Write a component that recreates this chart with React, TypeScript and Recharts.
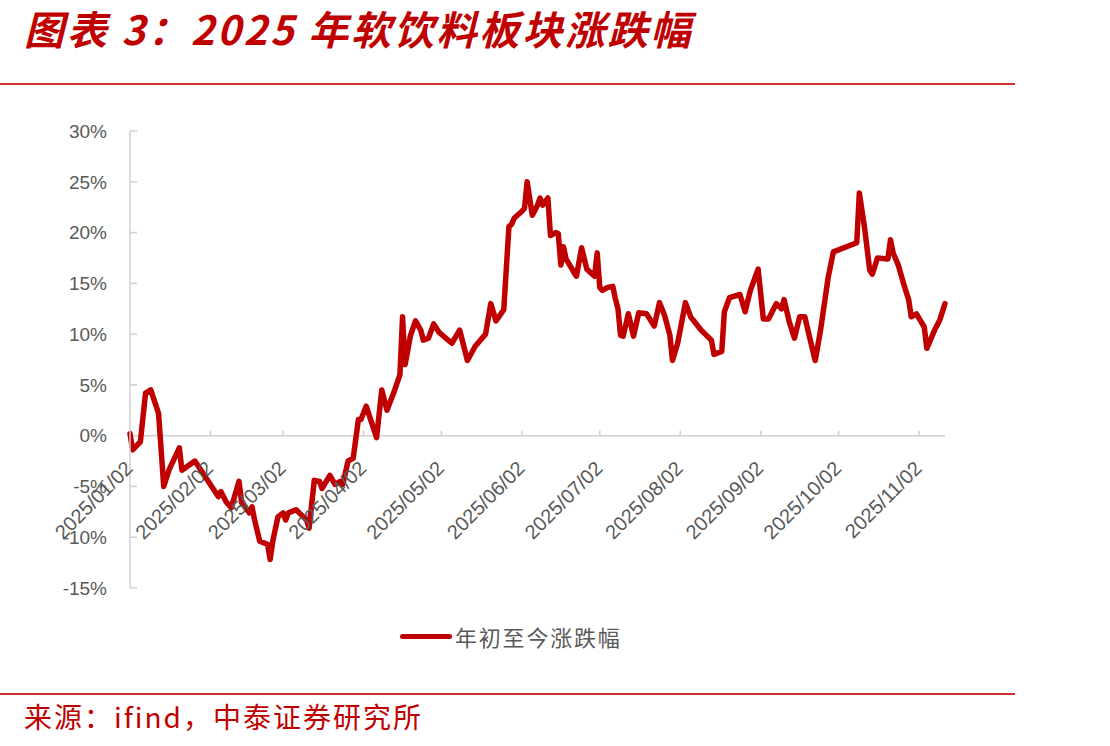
import React from "react";
import { LineChart, Line, XAxis, YAxis, ReferenceLine, ReferenceDot } from "recharts";

const dates = [
  "2025/01/02","2025/01/03","2025/01/06","2025/01/08","2025/01/10","2025/01/13","2025/01/15","2025/01/17","2025/01/21","2025/01/22",
  "2025/01/27","2025/02/05","2025/02/06","2025/02/08","2025/02/10","2025/02/13","2025/02/14","2025/02/17","2025/02/18","2025/02/19",
  "2025/02/21","2025/02/24","2025/02/25","2025/02/26","2025/02/28","2025/03/02","2025/03/03","2025/03/04","2025/03/07","2025/03/09",
  "2025/03/11","2025/03/12","2025/03/14","2025/03/16","2025/03/17","2025/03/20","2025/03/22","2025/03/24","2025/03/25","2025/03/27",
  "2025/03/29","2025/03/31","2025/04/01","2025/04/03","2025/04/07","2025/04/09","2025/04/11","2025/04/14","2025/04/16","2025/04/17",
  "2025/04/18","2025/04/20","2025/04/22","2025/04/24","2025/04/25","2025/04/27","2025/04/29","2025/05/01","2025/05/06","2025/05/09",
  "2025/05/12","2025/05/15","2025/05/19","2025/05/21","2025/05/23","2025/05/26","2025/05/28","2025/05/29","2025/05/30","2025/06/02",
  "2025/06/03","2025/06/04","2025/06/06","2025/06/08","2025/06/09","2025/06/10","2025/06/12","2025/06/13","2025/06/15","2025/06/16",
  "2025/06/17","2025/06/18","2025/06/19","2025/06/22","2025/06/23","2025/06/25","2025/06/27","2025/06/30","2025/07/01","2025/07/02",
  "2025/07/03","2025/07/05","2025/07/07","2025/07/08","2025/07/09","2025/07/10","2025/07/11","2025/07/13","2025/07/15","2025/07/17",
  "2025/07/20","2025/07/23","2025/07/25","2025/07/27","2025/07/29","2025/07/30","2025/08/01","2025/08/04","2025/08/06","2025/08/10",
  "2025/08/12","2025/08/14","2025/08/15","2025/08/18","2025/08/19","2025/08/21","2025/08/25","2025/08/27","2025/08/29","2025/09/01",
  "2025/09/03","2025/09/05","2025/09/08","2025/09/10","2025/09/11","2025/09/13","2025/09/15","2025/09/17","2025/09/19","2025/09/21",
  "2025/09/23","2025/09/25","2025/09/28","2025/09/30","2025/10/09","2025/10/10","2025/10/12","2025/10/14","2025/10/15","2025/10/17",
  "2025/10/21","2025/10/22","2025/10/23","2025/10/25","2025/10/27","2025/10/29","2025/10/30","2025/11/01","2025/11/04","2025/11/05",
  "2025/11/08","2025/11/10","2025/11/12"
];

const ytdChange = [
  0.2, -1.4, -0.6, 4.2, 4.5, 2.2, -5.0, -3.4, -1.2, -3.4,
  -2.5, -6.0, -5.5, -6.5, -7.1, -4.5, -6.6, -7.6, -7.0, -8.3,
  -10.4, -10.7, -12.2, -10.4, -8.0, -7.6, -8.3, -7.6, -7.3, -7.8,
  -8.3, -9.1, -4.4, -4.5, -5.2, -3.9, -4.8, -4.5, -4.8, -2.5,
  -2.2, 1.6, 1.6, 2.9, -0.2, 4.5, 2.5, 4.5, 6.0, 11.7,
  7.0, 9.8, 11.3, 10.4, 9.4, 9.6, 11.0, 10.2, 9.1, 10.4,
  7.4, 8.8, 10.0, 13.0, 11.3, 12.4, 20.6, 20.8, 21.4, 22.1,
  22.4, 25.0, 21.7, 22.7, 23.4, 22.7, 23.4, 19.7, 20.0, 19.9,
  16.8, 18.6, 17.4, 16.1, 15.7, 18.5, 16.4, 15.7, 18.0, 14.6,
  14.3, 14.6, 14.7, 13.5, 12.5, 9.9, 9.8, 12.0, 9.8, 12.1,
  12.0, 10.8, 13.1, 11.8, 9.9, 7.4, 9.1, 13.1, 11.7, 10.4,
  9.9, 9.4, 8.0, 8.3, 12.2, 13.6, 13.9, 12.2, 14.3, 16.4,
  11.5, 11.5, 13.0, 12.5, 13.4, 11.2, 9.6, 11.7, 11.7, 9.5,
  7.4, 10.3, 15.6, 18.1, 19.0, 23.9, 20.5, 16.3, 15.9, 17.5,
  17.4, 19.3, 18.0, 16.8, 15.0, 13.4, 11.7, 12.0, 10.7, 8.6,
  10.4, 11.4, 13.0
];

const xTickLabels = [
  "2025/01/02","2025/02/02","2025/03/02","2025/04/02","2025/05/02","2025/06/02",
  "2025/07/02","2025/08/02","2025/09/02","2025/10/02","2025/11/02"
];
const yTicks = [-15, -10, -5, 0, 5, 10, 15, 20, 25, 30];
const axisEnd = "2025/11/12";

const title = "图表 3：2025 年软饮料板块涨跌幅";
const seriesName = "年初至今涨跌幅";
const source = "来源：ifind，中泰证券研究所";

const toDay = (s: string) => {
  const [y, m, d] = s.split("/").map(Number);
  return (Date.UTC(y, m - 1, d) - Date.UTC(2025, 0, 2)) / 86400000;
};

const data = dates.map((s, i) => ({ day: toDay(s), v: ytdChange[i] }));

const RED = "#C00000";
const GRAY_TEXT = "#595959";
const AXIS = "#D0D0D0";
const FONT = "'Liberation Sans', Arial, sans-serif";
const CJK = "'Noto Sans CJK SC', sans-serif";

export default function App() {
  return (
    <div style={{ position: "absolute", left: 0, top: 0, width: 1110, height: 746, background: "#fff", overflow: "hidden" }}>
      <div
        style={{
          position: "absolute", left: 24, top: 4, fontFamily: CJK, fontWeight: 700, fontStyle: "italic",
          fontSize: 40, letterSpacing: 2.8, color: RED, lineHeight: "48px", whiteSpace: "nowrap",
        }}
      >
        {title}
      </div>
      <div style={{ position: "absolute", left: 0, top: 83, width: 1015, height: 2, background: "#D03030" }} />
      <LineChart
        width={1110}
        height={746}
        data={data}
        margin={{ top: 131, right: 165, bottom: 158, left: 70 }}
        style={{ position: "absolute", left: 0, top: 0 }}
      >
        <XAxis type="number" dataKey="day" domain={[0, toDay(axisEnd)]} hide />
        <YAxis
          type="number"
          domain={[-15, 30]}
          ticks={yTicks}
          width={60}
          interval={0}
          tickFormatter={(v: number) => `${v}%`}
          axisLine={{ stroke: AXIS, strokeWidth: 1.5 }}
          tickLine={false}
          tickSize={0}
          tickMargin={23}
          tick={{ fill: GRAY_TEXT, fontSize: 19, fontFamily: FONT }}
        />
        <ReferenceLine y={0} stroke={AXIS} strokeWidth={1.5} />
        {yTicks.map((t) => (
          <ReferenceLine key={`yt${t}`} segment={[{ x: 0, y: t }, { x: 2.7, y: t }]} stroke={AXIS} strokeWidth={1.5} />
        ))}
        {xTickLabels.map((s) => (
          <ReferenceLine key={`xt${s}`} segment={[{ x: toDay(s), y: 0 }, { x: toDay(s), y: 0.5 }]} stroke={AXIS} strokeWidth={1.5} />
        ))}
        {xTickLabels.map((s) => (
          <ReferenceDot
            key={`xl${s}`}
            x={toDay(s)}
            y={0}
            r={1}
            ifOverflow="visible"
            shape={(p: any) => {
              const ex = p.cx + 4;
              const ey = p.cy + 34;
              return (
                <text
                  x={ex}
                  y={ey}
                  textAnchor="end"
                  transform={`rotate(-45 ${ex} ${ey})`}
                  fill={GRAY_TEXT}
                  fontSize={20}
                  fontFamily={FONT}
                >
                  {s}
                </text>
              );
            }}
          />
        ))}
        <Line
          type="linear"
          dataKey="v"
          stroke={RED}
          strokeWidth={5.5}
          dot={false}
          strokeLinejoin="round"
          strokeLinecap="round"
          isAnimationActive={false}
        />
      </LineChart>
      <div style={{ position: "absolute", left: 400, top: 634, width: 52, height: 5, borderRadius: 3, background: RED }} />
      <div
        style={{
          position: "absolute", left: 455, top: 622, fontFamily: CJK, fontSize: 22, letterSpacing: 1.8,
          color: GRAY_TEXT, lineHeight: "28px", whiteSpace: "nowrap",
        }}
      >
        {seriesName}
      </div>
      <div style={{ position: "absolute", left: 0, top: 693, width: 1015, height: 2, background: "#D03030" }} />
      <div
        style={{
          position: "absolute", left: 24, top: 699, fontFamily: CJK, fontSize: 28, letterSpacing: 2,
          color: RED, lineHeight: "34px", whiteSpace: "nowrap",
        }}
      >
        {source}
      </div>
    </div>
  );
}
